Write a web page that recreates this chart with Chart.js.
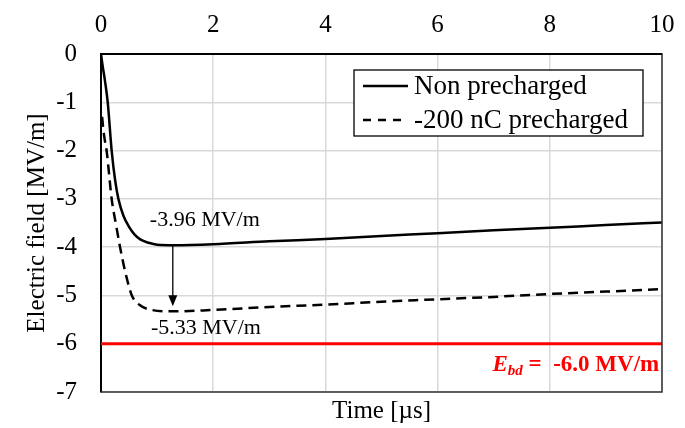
<!DOCTYPE html>
<html>
<head>
<meta charset="utf-8">
<script src="https://cdn.jsdelivr.net/npm/chart.js@4"></script>
<style>
  body { margin: 0; background: #fff; }
  #grafico { display: block; }
</style>
</head>
<body>
<canvas id="grafico" width="685" height="428"></canvas>
<script>
// valores
const tempoSemCarga = [0, 0.03, 0.07, 0.12, 0.19, 0.25, 0.31, 0.4, 0.5, 0.6, 0.7, 0.85, 1.0, 1.3, 2, 3, 4, 5, 6, 7, 8, 9, 10];
const campoSemCarga = [0, -0.25, -0.55, -1.0, -2.0, -2.6, -3.0, -3.35, -3.58, -3.74, -3.84, -3.91, -3.95, -3.96, -3.94, -3.88, -3.83, -3.77, -3.71, -3.65, -3.60, -3.54, -3.49];

const tempoPreCarga = [0.02, 0.04, 0.07, 0.10, 0.19, 0.27, 0.34, 0.43, 0.55, 0.69, 0.9, 1.3, 2, 3, 4, 5, 6, 7, 8, 9, 10];
const campoPreCarga = [-1.30, -1.55, -1.8, -2.0, -3.0, -3.55, -4.0, -4.5, -5.0, -5.2, -5.3, -5.33, -5.30, -5.24, -5.19, -5.13, -5.08, -5.03, -4.97, -4.92, -4.87];

const tempoRuptura = [0, 10];
const campoRuptura = [-6.0, -6.0];

const ticksX = [0, 2, 4, 6, 8, 10];
const ticksY = [0, -1, -2, -3, -4, -5, -6, -7];

const legendas = ['Non precharged', '-200 nC precharged'];

// anotacoes: seta entre os minimos
const setaTempo = 1.28;
const minimoSemCarga = -3.96;
const minimoPreCarga = -5.33;

const FONTE = '"Liberation Serif", "Times New Roman", serif';

function pares(xs, ys) {
  return xs.map((x, i) => ({ x: x, y: ys[i] }));
}

const pluginExtras = {
  id: 'extras',
  afterDraw(chart) {
    const ctx = chart.ctx;
    const ca = chart.chartArea;
    const sx = chart.scales.x;
    const sy = chart.scales.y;
    ctx.save();

    // borda direita e inferior
    ctx.strokeStyle = '#333';
    ctx.lineWidth = 1.5;
    ctx.beginPath();
    ctx.moveTo(ca.right, ca.top);
    ctx.lineTo(ca.right, ca.bottom);
    ctx.lineTo(ca.left, ca.bottom);
    ctx.stroke();

    // seta
    const ax = sx.getPixelForValue(setaTempo);
    const y1 = sy.getPixelForValue(minimoSemCarga);
    const y2 = sy.getPixelForValue(minimoPreCarga) - 5;
    ctx.strokeStyle = '#000';
    ctx.fillStyle = '#000';
    ctx.lineWidth = 1.3;
    ctx.beginPath();
    ctx.moveTo(ax, y1);
    ctx.lineTo(ax, y2 - 10);
    ctx.stroke();
    ctx.beginPath();
    ctx.moveTo(ax - 4.5, y2 - 11);
    ctx.lineTo(ax + 4.5, y2 - 11);
    ctx.lineTo(ax, y2);
    ctx.closePath();
    ctx.fill();

    // textos dos minimos
    ctx.font = '22px ' + FONTE;
    ctx.textAlign = 'left';
    ctx.textBaseline = 'middle';
    ctx.fillText(minimoSemCarga.toFixed(2) + ' MV/m', sx.getPixelForValue(0.87), sy.getPixelForValue(-3.44));
    ctx.fillText(minimoPreCarga.toFixed(2) + ' MV/m', sx.getPixelForValue(0.89), sy.getPixelForValue(-5.68));

    // E_bd
    ctx.fillStyle = '#ff0000';
    const fE = 'italic bold 23px ' + FONTE;
    const fSub = 'italic bold 15px ' + FONTE;
    const fTxt = 'bold 23px ' + FONTE;
    const resto = ' =  ' + campoRuptura[0].toFixed(1) + ' MV/m';
    ctx.font = fE; const wE = ctx.measureText('E').width;
    ctx.font = fSub; const wS = ctx.measureText('bd').width;
    ctx.font = fTxt; const wR = ctx.measureText(resto).width;
    const yb = sy.getPixelForValue(-6.45);
    let xp = sx.getPixelForValue(9.95) - (wE + wS + wR);
    ctx.textBaseline = 'middle';
    ctx.font = fE; ctx.fillText('E', xp, yb); xp += wE;
    ctx.font = fSub; ctx.fillText('bd', xp, yb + 6); xp += wS;
    ctx.font = fTxt; ctx.fillText(resto, xp, yb);

    // legenda
    const lx = ca.right - 308, ly = ca.top + 16, lw = 289, lh = 66;
    ctx.fillStyle = '#fff';
    ctx.fillRect(lx, ly, lw, lh);
    ctx.strokeStyle = '#000';
    ctx.lineWidth = 1.3;
    ctx.strokeRect(lx, ly, lw, lh);
    ctx.lineWidth = 2.5;
    ctx.beginPath();
    ctx.moveTo(lx + 9, ly + 16);
    ctx.lineTo(lx + 54, ly + 16);
    ctx.stroke();
    ctx.setLineDash([8, 7]);
    ctx.beginPath();
    ctx.moveTo(lx + 9, ly + 50);
    ctx.lineTo(lx + 54, ly + 50);
    ctx.stroke();
    ctx.setLineDash([]);
    ctx.fillStyle = '#000';
    ctx.font = '27px ' + FONTE;
    ctx.fillText(legendas[0], lx + 60, ly + 17);
    ctx.fillText(legendas[1], lx + 60, ly + 51);

    ctx.restore();
  }
};

new Chart(document.getElementById('grafico'), {
  type: 'line',
  data: {
    datasets: [
      {
        label: 'Breakdown',
        data: pares(tempoRuptura, campoRuptura),
        borderColor: '#ff0000',
        borderWidth: 3,
        pointRadius: 0,
        order: 3
      },
      {
        label: legendas[0],
        data: pares(tempoSemCarga, campoSemCarga),
        borderColor: '#000',
        borderWidth: 2.5,
        pointRadius: 0,
        cubicInterpolationMode: 'monotone',
        order: 1
      },
      {
        label: legendas[1],
        data: pares(tempoPreCarga, campoPreCarga),
        borderColor: '#000',
        borderWidth: 2.5,
        borderDash: [10, 6],
        pointRadius: 0,
        cubicInterpolationMode: 'monotone',
        order: 2
      }
    ]
  },
  options: {
    responsive: false,
    animation: false,
    layout: { padding: { right: 23, top: 0, bottom: 0, left: 0 } },
    plugins: {
      legend: { display: false },
      tooltip: { enabled: false }
    },
    scales: {
      x: {
        type: 'linear',
        position: 'top',
        min: 0,
        max: 10,
        afterBuildTicks: s => { s.ticks = ticksX.map(v => ({ value: v })); },
        // area do grafico fixa, sem padding automatico dos rotulos
        afterFit: s => { s.height = 54; s.paddingLeft = 0; s.paddingRight = 0; },
        ticks: { font: { family: FONTE, size: 25 }, color: '#000', padding: 14, maxRotation: 0 },
        grid: { color: '#d9d9d9', lineWidth: 1.5, drawTicks: false },
        border: { color: '#000', width: 2 }
      },
      x2: {
        type: 'linear',
        position: 'bottom',
        min: 0,
        max: 10,
        afterFit: s => { s.height = 36; s.paddingLeft = 0; s.paddingRight = 0; },
        ticks: { display: false },
        grid: { display: false },
        border: { display: false },
        title: { display: true, text: 'Time [µs]', color: '#000', font: { family: FONTE, size: 25 }, padding: { top: 0, bottom: 2 } }
      },
      y: {
        min: -7,
        max: 0,
        afterBuildTicks: s => { s.ticks = ticksY.map(v => ({ value: v })); },
        afterFit: s => { s.width = 101; s.paddingTop = 0; s.paddingBottom = 0; },
        ticks: { font: { family: FONTE, size: 25 }, color: '#000', padding: 24 },
        grid: { color: '#d9d9d9', lineWidth: 1.5, drawTicks: false },
        border: { color: '#000', width: 2 },
        title: { display: true, text: 'Electric field [MV/m]', color: '#000', font: { family: FONTE, size: 25 }, padding: { top: 22, bottom: 0 } }
      }
    }
  },
  plugins: [pluginExtras]
});
</script>
</body>
</html>
